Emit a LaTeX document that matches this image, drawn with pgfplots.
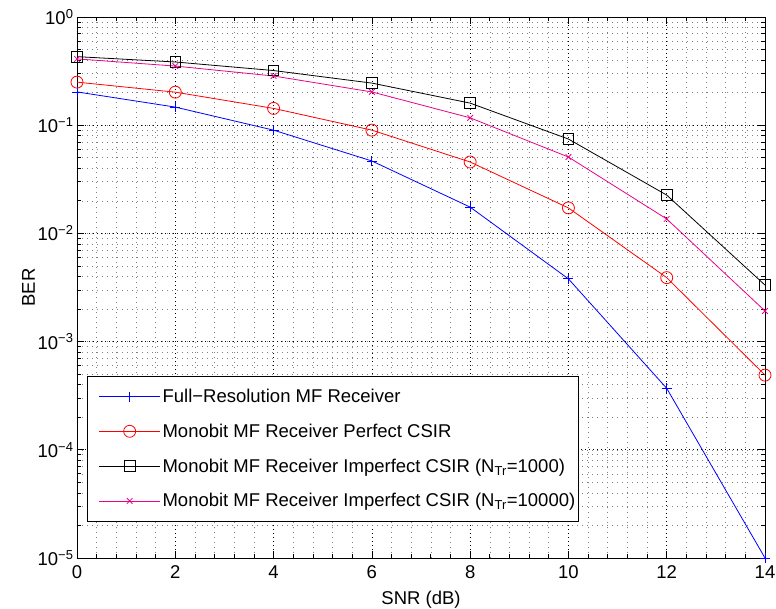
\documentclass[border=0pt]{standalone}
\usepackage{fontspec}
\setmainfont{Liberation Sans}
\usepackage{pgfplots}
\pgfplotsset{compat=1.18}
\begin{document}
\begin{tikzpicture}
\begin{axis}[
  scale only axis, width=688pt, height=541pt,
  xmin=0, xmax=14, ymode=log, ymin=1e-5, ymax=1,
  xtick={0,2,...,14}, minor x tick num=4,
  ytick={1e-5,1e-4,1e-3,1e-2,1e-1,1},
  yticklabels={10\textsuperscript{−5},10\textsuperscript{−4},10\textsuperscript{−3},10\textsuperscript{−2},10\textsuperscript{−1},10\textsuperscript{0}},
  /pgf/number format/assume math mode=true,
  grid=both,
  major grid style={black, line width=0.7pt, dash pattern=on 0.8pt off 3.2pt},
  minor grid style={black!50, line width=0.6pt, dash pattern=on 0.8pt off 4.2pt},
  tick align=inside,
  major tick length=7pt, minor tick length=4pt,
  every tick/.style={black, line width=0.7pt},
  axis line style={line width=0.9pt},
  font=\fontsize{18.5}{22}\selectfont,
  tick label style={font=\fontsize{18.5}{22}\selectfont},
  xticklabel style={yshift=-4pt},
  xlabel={SNR (dB)}, ylabel={BER},
  xlabel style={yshift=-6pt},
  ylabel style={yshift=-4pt},
  legend cell align=left,
  legend image code/.code={\path (0pt,-17pt) (0pt,17pt); \draw[mark repeat=2,mark phase=2,#1] plot coordinates {(10pt,0pt) (40.5pt,0pt) (71pt,0pt)};},
  legend style={at={(0.015,0.067)}, anchor=south west, draw=black, line width=0.9pt,
    font=\fontsize{18.5}{22}\selectfont, inner xsep=1pt, inner ysep=3pt,
    /tikz/every even column/.append style={column sep=3pt},
    row sep=0pt, fill=white},
]
\addplot[blue, line width=0.8pt, mark=+, mark size=5pt, mark options={line width=0.8pt}] coordinates {
(0,0.203) (2,0.147) (4,0.090) (6,0.0467) (8,0.0175) (10,0.0038) (12,3.7e-4) (14,1.0e-5)};
\addlegendentry{Full−Resolution MF Receiver}
\addplot[red, line width=0.8pt, mark=o, mark size=6pt, mark options={line width=0.8pt}] coordinates {
(0,0.25) (2,0.202) (4,0.143) (6,0.090) (8,0.0457) (10,0.0172) (12,0.0039) (14,4.9e-4)};
\addlegendentry{Monobit MF Receiver Perfect CSIR}
\addplot[black, line width=0.8pt, mark=square, mark size=5.3pt, mark options={line width=0.8pt}] coordinates {
(0,0.43) (2,0.384) (4,0.32) (6,0.245) (8,0.160) (10,0.0745) (12,0.0226) (14,0.00333)};
\addlegendentry{Monobit MF Receiver Imperfect CSIR (N\textsubscript{Tr}=1000)}
\addplot[magenta, line width=0.8pt, mark=x, mark size=4pt, mark options={line width=0.8pt}] coordinates {
(0,0.41) (2,0.352) (4,0.285) (6,0.203) (8,0.117) (10,0.0508) (12,0.0136) (14,0.00192)};
\addlegendentry{Monobit MF Receiver Imperfect CSIR (N\textsubscript{Tr}=10000)}
\end{axis}
\pgfresetboundingbox
\path ([shift={(-77pt,-51pt)}]current axis.south west) rectangle ([shift={(11pt,17pt)}]current axis.north east);
\end{tikzpicture}
\end{document}
